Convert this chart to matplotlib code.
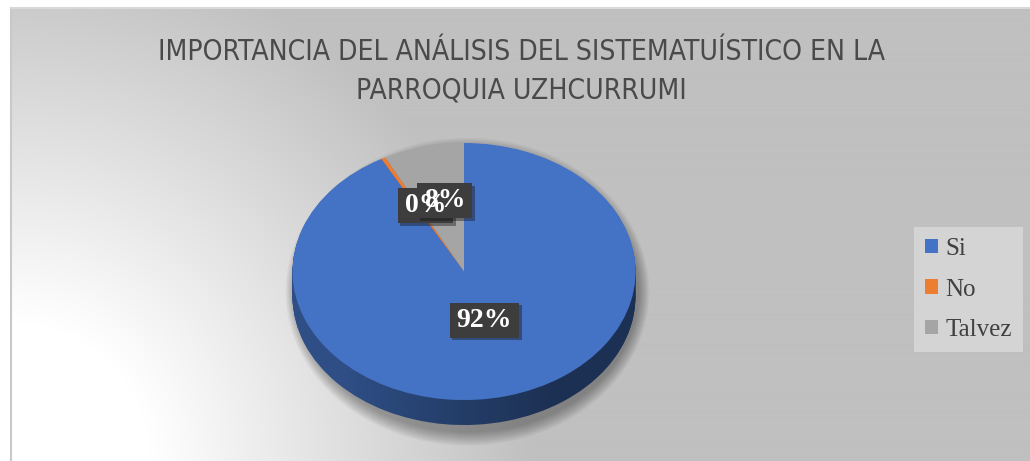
import numpy as np
import matplotlib
matplotlib.use("Agg")
import matplotlib.pyplot as plt
from matplotlib import font_manager
from matplotlib.font_manager import FontProperties
from matplotlib.patches import Polygon, Ellipse, Rectangle
from matplotlib.transforms import ScaledTranslation, IdentityTransform
from matplotlib import patheffects as pe

# data
labels = ["Si", "No", "Talvez"]
values = [92, 0.4, 7.6]
colors = ["#4472c4", "#ed7d31", "#a5a5a5"]
title_lines = ["IMPORTANCIA DEL ANÁLISIS DEL SISTEMATUÍSTICO EN LA",
               "PARROQUIA UZHCURRUMI"]

W, H = 1030, 461
fig = plt.figure(figsize=(W / 100, H / 100), dpi=100)

# background with radial gradient (light bottom-left corner)
bg = fig.add_axes([0, 0, 1, 1])
bg.set_xlim(0, W)
bg.set_ylim(H, 0)
bg.axis("off")
yy, xx = np.mgrid[8:H, 11:W]
d = np.hypot(xx - 11, yy - H)
t = np.clip((d - 140) / 380, 0, 1)
g = (1 - t) * 1.0 + t * (192 / 255)
bg.imshow(np.dstack([g, g, g]), extent=(11, W, H, 8), origin="upper", aspect="auto", zorder=0)
bg.plot([11, 11], [H, 8], color="#c9c9c9", lw=1.5, zorder=1)
bg.plot([11, W], [8, 8], color="#d9d9d9", lw=1.5, zorder=1)


# narrow sans for the title if one is installed
def _w(f):
    try:
        return int(f.weight)
    except (TypeError, ValueError):
        return 400


renderer = fig.canvas.get_renderer()
best = None
for f in font_manager.fontManager.ttflist:
    key = (f.name + " " + f.fname).lower()
    if f.style != "normal" or "mono" in key or "serif" in key.replace("sans", ""):
        continue
    if _w(f) > 400:
        continue
    if not ("condensed" in key or "narrow" in key or f.name in ("Lato", "Noto Sans")):
        continue
    tmp = fig.text(0, 0, title_lines[0], fontproperties=FontProperties(fname=f.fname, size=20.5))
    wpx = tmp.get_window_extent(renderer).width
    tmp.remove()
    score = abs(wpx - 727) + 0.3 * abs(_w(f) - 330)
    if best is None or score < best[0]:
        best = (score, f.fname)
tprop = FontProperties(fname=best[1]) if best else FontProperties(family="Lato")

tt = []
for i, line in enumerate(title_lines):
    tt.append(fig.text(521 / W, 1 - (52 + 38 * i) / H, line, ha="center", va="center",
                       fontproperties=tprop.copy(), color="#4a4a4a"))
    tt[-1].set_fontsize(20)
fig.canvas.draw()
w0 = tt[0].get_window_extent().width
for x in tt:
    x.set_fontsize(min(20 * 727 / w0, 23))

# pie axes, scaled so the pie is an ellipse
rx, ry = 171.5, 128.5
cx, cy = 464, 271.5
depth = 25 / ry
x0, x1 = -1.25, 1.25
y0, y1 = -1.45, 1.2
ax = fig.add_axes([(cx + x0 * rx) / W, (H - cy + y0 * ry) / H,
                   (x1 - x0) * rx / W, (y1 - y0) * ry / H])

# soft shadow
for e in np.linspace(0.1, 0.0, 10):
    ax.add_patch(Ellipse((0.02, -depth / 2 - 0.06), 2 * (1 + e * 0.6), 2 * (1 + e) + depth,
                         facecolor="black", edgecolor="none", alpha=0.035, zorder=1))

# side of the 3D pie
dark = [tuple(np.array(matplotlib.colors.to_rgb(c)) * 0.68) for c in colors]
n = 30
for k in range(n):
    off = -depth * (1 - k / n)
    w_side, _ = ax.pie(values, colors=dark, startangle=90, counterclock=False,
                       center=(0, off), wedgeprops=dict(linewidth=0))
    for w in w_side:
        w.set_zorder(2)

th = np.linspace(np.pi, 2 * np.pi, 200)
side_pts = np.vstack([np.c_[np.cos(th), np.sin(th)],
                      np.c_[np.cos(th[::-1]), np.sin(th[::-1]) - depth]])
side = Polygon(side_pts, closed=True, facecolor="none", edgecolor="none")
ax.add_patch(side)
ramp = np.linspace(-1, 1, 300)
shade = np.zeros((10, 300, 4))
shade[..., 3] = np.clip((ramp + 0.7) / 1.2, 0, 1) * 0.38
im = ax.imshow(shade, extent=(-1, 1, -1 - depth, 0), aspect="auto", zorder=2.5)
im.set_clip_path(side)

# top face
wedges, _, autotexts = ax.pie(values, colors=colors, startangle=90, counterclock=False,
                              autopct=lambda p: f"{p:.0f}%", pctdistance=0.48,
                              wedgeprops=dict(linewidth=0))
for w in wedges:
    w.set_zorder(3)

ax.set_aspect("auto")
ax.set_xlim(x0, x1)
ax.set_ylim(y0, y1)
ax.axis("off")

lift = ax.transData + ScaledTranslation(0, 8 / 72, fig.dpi_scale_trans)
for a in autotexts:
    a.set(color="white", fontsize=20, fontweight="bold", family="Liberation Serif",
          zorder=5, transform=lift)

# label boxes: all boxes sit under all texts
fig.canvas.draw()
for a in autotexts:
    bb = a.get_window_extent()
    px, py = 7, 5
    r = Rectangle((bb.x0 - px, bb.y0 - py), bb.width + 2 * px, bb.height + 2 * py,
                  transform=IdentityTransform(), facecolor="#3d3d3d", edgecolor="none",
                  zorder=4)
    r.set_path_effects([pe.SimplePatchShadow(offset=(2, -2), alpha=0.4), pe.Normal()])
    ax.add_patch(r)

leg = ax.legend(wedges, labels, loc="center left", bbox_to_anchor=(914 / W, 1 - 289.5 / H),
                bbox_transform=fig.transFigure, frameon=True, fancybox=False,
                prop=dict(family="Liberation Serif", size=18), labelcolor="#404040",
                handlelength=0.5, handleheight=0.5, handletextpad=0.3,
                labelspacing=0.74, borderpad=0.45, borderaxespad=0)
leg.get_frame().set_facecolor("#d4d4d4")
leg.get_frame().set_edgecolor("none")
leg.get_frame().set_alpha(1)

fig.savefig("out.png", dpi=100)
